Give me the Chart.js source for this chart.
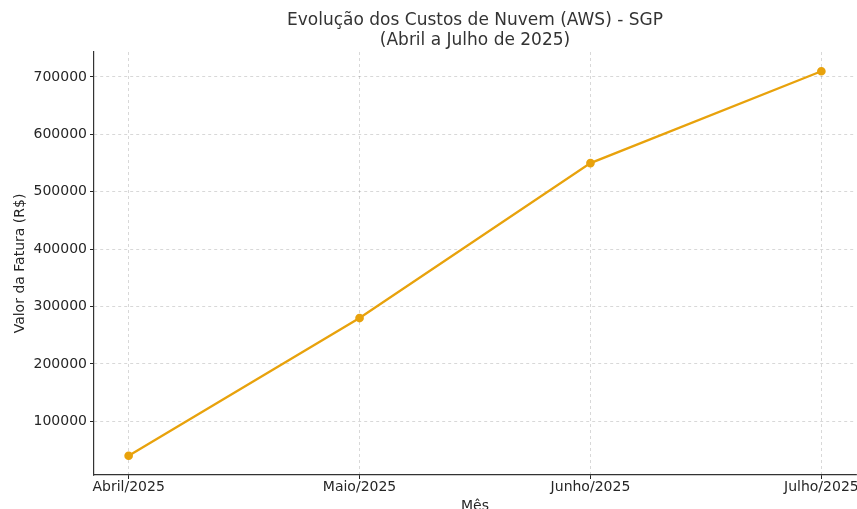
<!DOCTYPE html>
<html>
<head>
<meta charset="utf-8">
<script src="https://cdn.jsdelivr.net/npm/chart.js@4"></script>
<style>
  html, body { margin: 0; padding: 0; background: #fff; }
  #wrap { width: 857px; height: 509px; }
</style>
</head>
<body>
<div id="wrap"><canvas id="chart" width="857" height="509"></canvas></div>
<script>
const months = ['Abril/2025', 'Maio/2025', 'Junho/2025', 'Julho/2025'];
const costs = [40000, 280000, 550000, 710000];
const yTicks = [100000, 200000, 300000, 400000, 500000, 600000, 700000];

const titleLines = ['Evolução dos Custos de Nuvem (AWS) - SGP', '(Abril a Julho de 2025)'];
const xTitle = 'Mês';
const yTitle = 'Valor da Fatura (R$)';

const FONT = "'DejaVu Sans', sans-serif";
const INK = '#262626';

// titles drawn like matplotlib: centred on the axes box
const textPlugin = {
  id: 'mplText',
  afterDraw(chart) {
    const ctx = chart.ctx;
    const area = chart.chartArea;
    const cx = (area.left + area.right) / 2;
    ctx.save();
    ctx.fillStyle = '#333';
    ctx.textAlign = 'center';
    ctx.textBaseline = 'middle';
    ctx.font = '17px ' + FONT;
    ctx.fillText(titleLines[0], cx, 20.5);
    ctx.fillText(titleLines[1], cx, 40.5);
    ctx.fillStyle = INK;
    ctx.font = '14px ' + FONT;
    ctx.fillText(xTitle, cx, 506);
    ctx.translate(20, (area.top + area.bottom) / 2);
    ctx.rotate(-Math.PI / 2);
    ctx.fillText(yTitle, 0, 0);
    ctx.restore();
  }
};

const data = {
  datasets: [
    {
      label: 'Custo',
      data: costs.map((v, i) => ({ x: i, y: v })),
      borderColor: '#E8A20C',
      backgroundColor: '#E8A20C',
      borderWidth: 2.3,
      pointRadius: 3.2,
      pointHoverRadius: 3.2,
      tension: 0,
    }
  ]
};

const grid = {
  color: 'rgba(0,0,0,0.22)',
  lineWidth: 0.7,
  tickBorderDash: [],
  tickColor: INK,
  tickWidth: 1,
  tickLength: 4,
  drawTicks: true,
};

const border = { display: true, color: '#333', width: 1.2, dash: [3, 3] };

const config = {
  type: 'line',
  data: data,
  plugins: [textPlugin],
  options: {
    responsive: false,
    animation: false,
    layout: { autoPadding: false, padding: { top: 52, right: 1, left: 0, bottom: 0 } },
    plugins: {
      legend: { display: false },
      title: { display: false },
      tooltip: { enabled: false }
    },
    scales: {
      x: {
        type: 'linear',
        min: -0.15,
        max: 3.15,
        afterBuildTicks: scale => { scale.ticks = months.map((m, i) => ({ value: i })); },
        afterFit: scale => {
          scale.height = 34;
          scale.paddingLeft = 0;
          scale.paddingRight = 0;
        },
        grid: grid,
        border: border,
        ticks: {
          color: INK,
          font: { family: FONT, size: 14 },
          padding: 0,
          maxRotation: 0,
          autoSkip: false,
          callback: v => months[v]
        }
      },
      y: {
        min: 6500,
        max: 743500,
        afterBuildTicks: scale => { scale.ticks = yTicks.map(v => ({ value: v })); },
        afterFit: scale => {
          scale.width = 94;
          scale.paddingTop = 0;
          scale.paddingBottom = 0;
        },
        grid: grid,
        border: border,
        ticks: {
          color: INK,
          font: { family: FONT, size: 14 },
          padding: 3,
          callback: v => String(v)
        }
      }
    }
  }
};

const chart = new Chart(document.getElementById('chart'), config);
</script>
</body>
</html>
